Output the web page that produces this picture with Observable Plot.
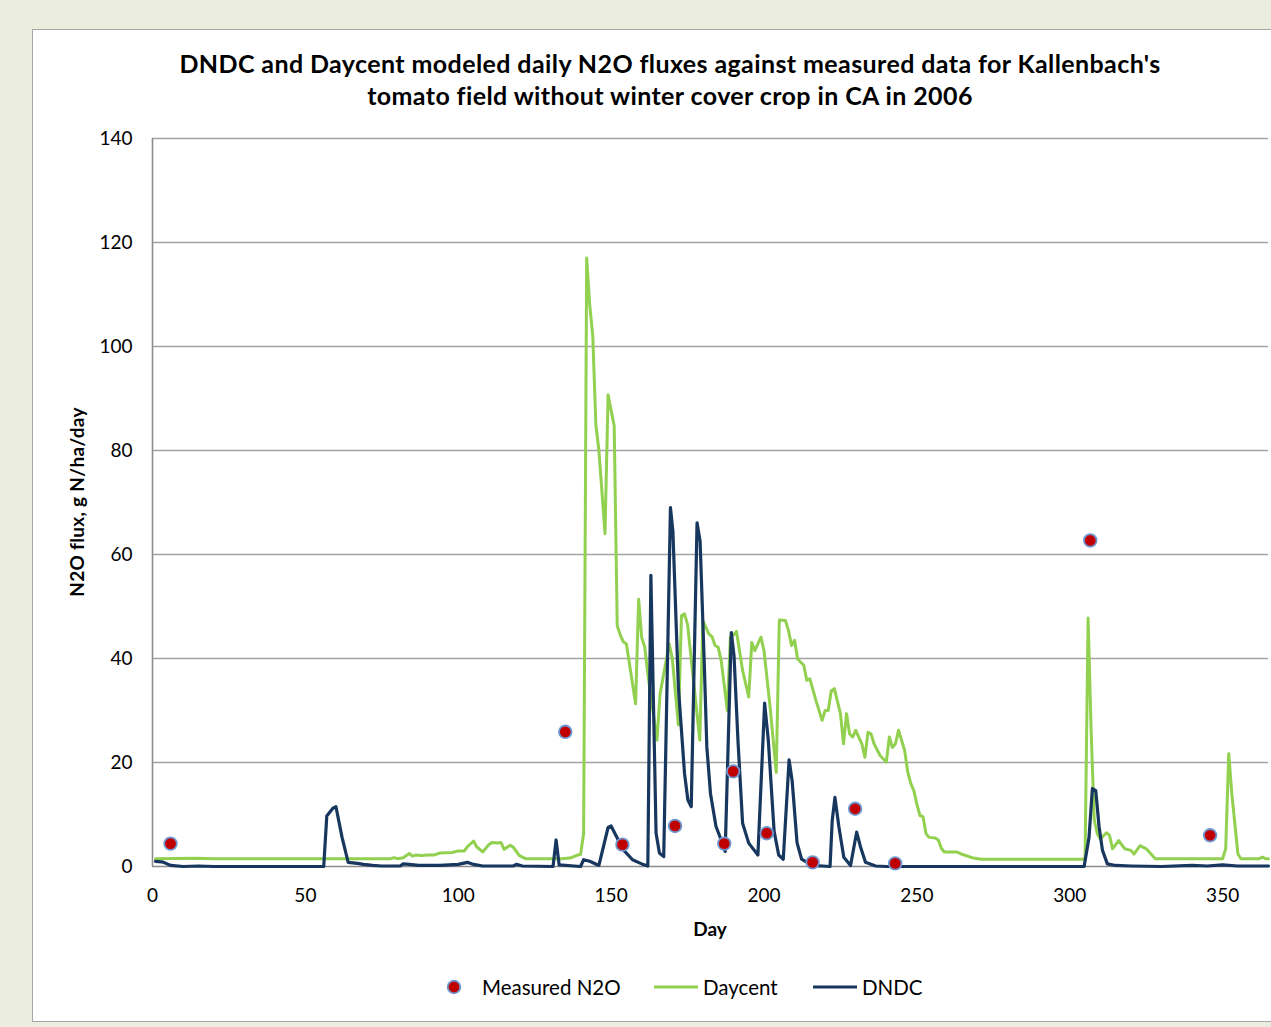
<!DOCTYPE html>
<html>
<head>
<meta charset="utf-8">
<script src="https://cdn.jsdelivr.net/npm/d3@7"></script>
<script src="https://cdn.jsdelivr.net/npm/@observablehq/plot@0.6"></script>
<style>
  html, body { margin: 0; padding: 0; width: 1271px; height: 1027px; overflow: hidden; background: #ebeedf; font-family: Lato, "Open Sans", sans-serif; }
  .box { position: absolute; left: 32px; top: 29px; width: 1260px; height: 991px; background: #fff; border: 1px solid #a6a6a6; }
  .title { position: absolute; left: 70px; width: 1200px; top: 47px; text-align: center; font-weight: bold; font-size: 25px; letter-spacing: 0.4px; line-height: 32px; color: #000; }
  #chart { position: absolute; left: 40px; top: 120px; }
  .ylab { position: absolute; left: 76px; top: 502px; transform: translate(-50%, -50%) rotate(-90deg); font-weight: bold; font-size: 19px; letter-spacing: 0.3px; white-space: nowrap; }
  .xlab { position: absolute; left: 710px; top: 928px; transform: translate(-50%, -50%); font-weight: bold; font-size: 19px; }
  .legend { position: absolute; top: 987px; left: 0; width: 1271px; height: 0; font-size: 20.5px; }
  .legend .it { position: absolute; top: 0; transform: translateY(-50%); display: flex; align-items: center; white-space: nowrap; }
</style>
</head>
<body>
<div class="box"></div>
<div class="title">DNDC and Daycent modeled daily N2O fluxes against measured data for Kallenbach's<br>tomato field without winter cover crop in CA in 2006</div>
<div id="chart"></div>
<div class="ylab">N2O flux, g N/ha/day</div>
<div class="xlab">Day</div>
<div class="legend" id="legend"></div>
<script>
// ---- data ----
const seriesNames = ["Measured N2O", "Daycent", "DNDC"];
const seriesColors = ["#c00000", "#92d050", "#17375e"];

const daycentDay = [1,14,20,78,79,80,82,84,85,86,88,90,92,94,98,100,102,103,105,106,108,110,111,113,114,115,117,118,120,122,134,137,139,140,141,142,143,144,145,146,148,149,151,152,153,154,155,158,159,160,161,162,165,166,167,169,170,172,173,174,175,179,180,182,183,184,185,186,188,189,190,191,193,195,196,197,199,200,202,204,205,207,208,209,210,211,213,214,215,217,219,220,221,222,223,225,226,227,228,229,230,232,233,234,235,236,238,240,241,242,243,244,246,247,248,249,250,251,252,253,254,256,257,258,259,263,265,268,271,304,305,306,307,308,309,310,312,313,314,316,318,320,321,323,325,328,350,351,352,353,355,356,362,363,364,365];
const daycentFlux = [1.5,1.6,1.5,1.5,1.7,1.5,1.7,2.5,2.0,2.2,2.1,2.2,2.2,2.6,2.7,3.0,3.0,3.8,4.9,3.8,2.8,4.2,4.6,4.5,4.6,3.3,4.1,3.7,2.1,1.5,1.5,1.7,2.2,2.3,6.3,117,108,102,85,80,64,90.7,84.7,46.3,44.5,43.2,42.8,31.3,51.4,44,42.2,37,24.3,33.2,36.4,42.8,40,27.2,48.2,48.6,46.5,24.3,47.3,44.7,44.2,42.5,42.2,39.6,30,44.1,44.5,45.2,37.7,32.6,43.1,41.5,44.1,41.5,30.6,18.1,47.4,47.3,45.4,42.5,43.5,39.9,38.7,35.8,36.1,31.9,28.1,30,30,33.8,34.2,29.4,23.6,29.4,25.5,24.9,26.2,23.6,21,25.8,25.5,23.6,21.3,20.1,24.9,22.9,23.6,26.2,22.3,18.2,16,14.6,12,9.8,9.6,6.3,5.6,5.5,5.1,3.5,2.8,2.8,2.3,1.7,1.4,1.4,1.5,47.8,26,9,6.3,5.3,6.5,6,3.4,5,3.4,3.1,2.4,4,3.4,1.5,1.5,3.4,21.7,14,2.4,1.5,1.5,1.8,1.5,1.5];

const dndcDay = [1,3,4,6,10,15,20,56,57,59,60,62,64,67,69,72,75,81,82,84,87,94,100,103,105,108,118,119,121,131,132,133,140,141,143,146,149,150,152,153,154,157,160,162,163,164.7,165.8,167.2,169.4,170.2,172,174,175.1,176.2,178.1,179.1,180.5,181.3,182.5,184.3,186,187.3,189.3,190.2,191.5,193,195,198,200.2,201.4,203.3,204.8,206.3,208.2,209.2,210.8,212.3,215.8,221.6,222.3,223.2,224.5,226.1,228.3,230.3,231.6,233.2,236.5,240,304.7,306.3,307.4,308.5,309.6,310.7,312.3,315,320,330,340,345,350,355,365];
const dndcFlux = [1.0,0.9,0.7,0.2,0,0.1,0,0,9.7,11.2,11.5,5.6,0.8,0.6,0.4,0.2,0.1,0.1,0.5,0.4,0.2,0.2,0.4,0.8,0.4,0.1,0.1,0.4,0.1,0,5.1,0.3,0,1.3,1.0,0.2,7.5,7.8,5.5,4,3.2,1.3,0.5,0.1,56,6.4,2.6,1.9,69,64.5,34.5,17.9,12.8,11.5,66.1,62.6,38.3,23,14,7.7,5.1,2.9,45,40.5,24,8.3,4.5,2.2,31.4,24.3,6.8,2.2,1.4,20.5,16.5,4.6,1.4,0.2,0,8.8,13.3,7.6,1.8,0.2,6.6,3.7,0.8,0.1,0,0,5.6,15,14.6,7.6,3.1,0.5,0.2,0.1,0,0.2,0.1,0.3,0.1,0.1];

const measDay = [5.9,135,153.7,170.9,187,189.9,200.9,215.9,229.8,242.9,306.7,345.9];
const measFlux = [4.4,25.9,4.2,7.8,4.4,18.3,6.4,0.8,11.1,0.6,62.7,6.0];

const xTicks = [0,50,100,150,200,250,300,350];
const yTicks = [0,20,40,60,80,100,120,140];

// ---- tables ----
const daycent = daycentDay.map((d, i) => ({day: d, flux: daycentFlux[i]}));
const dndc = dndcDay.map((d, i) => ({day: d, flux: dndcFlux[i]}));
const measured = measDay.map((d, i) => ({day: d, flux: measFlux[i]}));

const chart = Plot.plot({
  width: 1231,
  height: 830,
  marginLeft: 112,
  marginRight: 3,
  marginTop: 18,
  marginBottom: 84,
  style: {fontFamily: "Lato, 'Open Sans', sans-serif", fontSize: "19px", color: "#000", background: "transparent"},
  x: {domain: [0, 365], ticks: xTicks},
  y: {domain: [0, 140], ticks: yTicks},
  marks: [
    Plot.gridY(yTicks.slice(1), {stroke: "#a3a3a3", strokeOpacity: 1, strokeWidth: 1.6}),
    Plot.ruleY([0], {stroke: "#8c8c8c", strokeWidth: 1.6}),
    Plot.ruleX([0], {stroke: "#8c8c8c", strokeWidth: 1.6}),
    Plot.axisX(xTicks, {tickSize: 0, tickPadding: 22, label: null, fontSize: 19}),
    Plot.axisY(yTicks, {tickSize: 0, tickPadding: 20, label: null, fontSize: 19}),
    Plot.line(daycent, {x: "day", y: "flux", stroke: seriesColors[1], strokeWidth: 3, strokeLinejoin: "round"}),
    Plot.line(dndc, {x: "day", y: "flux", stroke: seriesColors[2], strokeWidth: 3.2, strokeLinejoin: "round"}),
    Plot.dot(measured, {x: "day", y: "flux", r: 6.3, fill: seriesColors[0], stroke: "#7096cf", strokeWidth: 1.8})
  ]
});
document.getElementById("chart").appendChild(chart);

// ---- legend ----
const legend = document.getElementById("legend");
const legendX = [447, 653, 812];
seriesNames.forEach((name, i) => {
  const it = document.createElement("div");
  it.className = "it";
  it.style.left = legendX[i] + "px";
  const sw = i === 0
    ? `<svg width="20" height="20" style="margin-right:15px"><circle cx="7" cy="10" r="6.3" fill="${seriesColors[0]}" stroke="#7096cf" stroke-width="1.8"/></svg>`
    : `<svg width="46" height="20" style="margin-right:4px"><line x1="1" x2="45" y1="10" y2="10" stroke="${seriesColors[i]}" stroke-width="3.2"/></svg>`;
  it.innerHTML = sw + `<span>${name}</span>`;
  legend.appendChild(it);
});
</script>
</body>
</html>
